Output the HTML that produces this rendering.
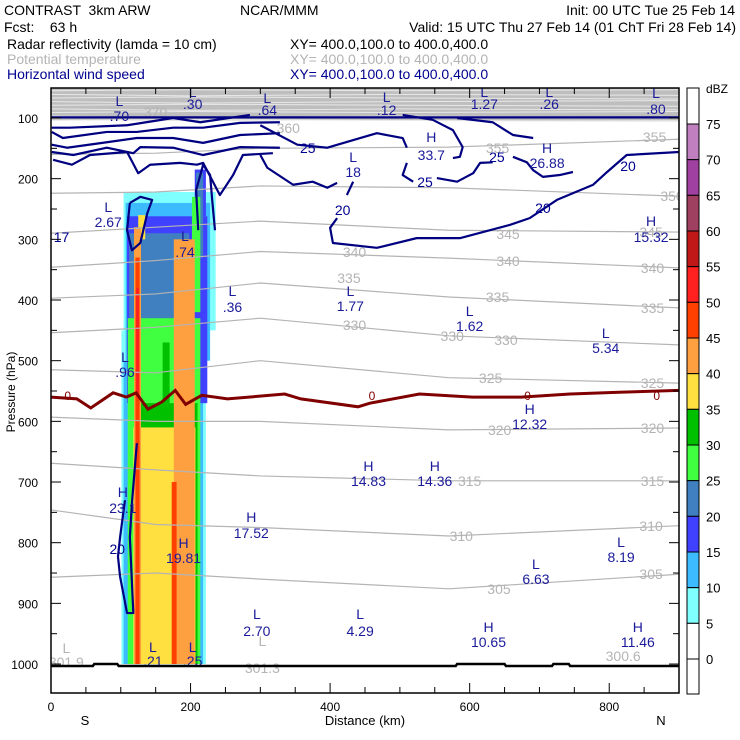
<!DOCTYPE html>
<html><head><meta charset="utf-8">
<style>
html,body{margin:0;padding:0;background:#fff;}
body{width:740px;height:740px;overflow:hidden;font-family:"Liberation Sans",sans-serif;}
.t{position:absolute;font-size:14px;white-space:pre;line-height:14px;}
</style></head>
<body>
<div style="position:absolute;left:0;top:0;width:740px;height:85px;">
<div class="t" style="left:4px;top:3px;">CONTRAST  3km ARW</div>
<div class="t" style="left:240px;top:3px;">NCAR/MMM</div>
<div class="t" style="right:5px;top:3px;">Init: 00 UTC Tue 25 Feb 14</div>
<div class="t" style="left:4px;top:20px;">Fcst:    63 h</div>
<div class="t" style="right:4px;top:20px;">Valid: 15 UTC Thu 27 Feb 14 (01 ChT Fri 28 Feb 14)</div>
<div class="t" style="left:7px;top:37px;">Radar reflectivity (lamda = 10 cm)</div>
<div class="t" style="left:290px;top:37px;">XY= 400.0,100.0 to 400.0,400.0</div>
<div class="t" style="left:7px;top:52px;color:#b4b4b4;">Potential temperature</div>
<div class="t" style="left:290px;top:52px;color:#b4b4b4;">XY= 400.0,100.0 to 400.0,400.0</div>
<div class="t" style="left:7px;top:67px;color:#000090;">Horizontal wind speed</div>
<div class="t" style="left:290px;top:67px;color:#000090;">XY= 400.0,100.0 to 400.0,400.0</div>
</div>
<svg id="chart" width="740" height="740" style="position:absolute;left:0;top:0;" xmlns="http://www.w3.org/2000/svg" font-family="Liberation Sans, sans-serif"></svg>
<script>
// ---- data ----
const xTicks=[0,200,400,600,800];
const pTicks=[100,200,300,400,500,600,700,800,900,1000];
const cbarLevels=[0,5,10,15,20,25,30,35,40,45,50,55,60,65,70,75];
const cbarColors=['#ffffff','#ffffff','#80ffff','#3cbcff','#4040ff','#4080c0','#40ff40','#00c000','#ffe040','#ffa040','#ff4000','#ff2020','#c01818','#a04060','#a040a0','#c080c0','#ffffff'];
// reflectivity cells: [x0 km, x1 km, pTop, pBot, dBZ]
const reflCells=[
[101,222,450,1000,5],[104,236,222,450,5],
[104,218,500,1000,10],[107,228,240,500,10],
[109,224,262,570,15],[206,222,185,262,15],
[112,198,290,590,20],[208,218,190,330,20],
[110,214,430,1000,25],[202,214,230,420,25],
[119,210,570,1000,30],[160,170,470,570,30],
[118,207,610,1000,35],[125,135,260,300,35],
[119,129,280,1000,40],[176,206,300,1000,40],
[121,127,330,1000,45],[173,180,700,1000,45],
[122,126,380,560,50]
];
const thetaLevels=[355,350,345,340,335,330,325,320,315,310,305];
const thetaKm=[0,150,300,570,900];
const thetaP=[
[160,158,150,148,135],
[224,222,212,215,229],
[290,280,270,285,288],
[346,335,320,331,347],
[397,390,372,395,413],
[454,445,430,459,474],
[515,520,500,528,537],
[593,600,600,614,611],
[669,680,690,698,698],
[746,770,775,789,772],
[857,850,860,876,852]];
const topBandP=[55,61,67,73,79,85,91,97,104];
const freezeKm=[0,37,57,89,108,122,139,159,178,193,216,253,335,358,440,457,528,604,674,744,814,900];
const freezeP=[560,563,578,553,560,553,580,568,549,572,557,563,555,563,576,570,555,560,560,555,552,549];
// wind contours: each is km list + hPa list
const windKm=[
[0,900],
[1,27,109,175,214,285],
[1,17,80,123,175,218,271,328],
[1,23,80,123,175,218,271,328],
[1,32,80,118,128,175,218,271,328],
[3,30,56,109,125,142,185,209,218,242,261,275,318],
[300,353,396,443,467,504,510],
[510,504,519],
[553,582,605,615,633],
[662,682,691,705,729,748],
[504,547,576,590,586,576],
[582,633,662,691],
[300,310,347,375,396,410],
[901,825,797,777,725,686,658,586,524,467,404,400,410],
[424,433],
[113,128,145,138,128,116,109,113],
[211,208,218,228,231,235],
[123,116,113,118,109,99,96,99,106]
];
const windP=[
[99,99],
[116,116,112,100,107,95],
[123,133,123,123,116,116,108,107],
[144,149,140,133,133,141,128,125],
[156,161,149,158,148,149,161,148,149],
[169,177,161,156,191,177,174,177,174,227,194,161,158],
[112,144,149,133,125,133,149],
[174,194,205],
[199,205,191,174,173],
[164,173,186,197,194,189],
[95,103,120,148,164,166],
[100,107,128,133],
[161,182,210,205,215,207],
[156,161,189,210,235,265,276,298,298,314,306,281,265],
[227,205],
[240,230,235,257,306,318,285,240],
[285,219,177,194,235,285],
[636,735,791,916,916,856,823,791,730]
];
const hlLabels=[
['L','.70',98,101,116],['L','.30',203,92,104],['L','.64',310,98,110],['L','.12',481,97,110],
['L','1.27',621,92,104],['L','.26',714,92,104],['L','.80',867,93,109],
['H','33.7',545,137,155],['L','18',433,157,172],['H','26.88',711,148,163],
['L','2.67',82,207,222],['L','.74',192,236,252],['H','15.32',860,221,237],
['L','.36',260,291,307],['L','1.77',429,291,306],['L','1.62',600,311,326],['L','5.34',795,333,348],
['L','.96',106,357,372],['H','12.32',686,409,424],['H','14.83',455,466,481],['H','14.36',550,466,481],
['H','23.1',103,492,508],['H','17.52',287,517,533],['H','19.81',190,543,558],
['L','8.19',817,542,557],['L','6.63',695,564,579],['L','2.70',295,614,631],['L','4.29',443,614,631],
['H','10.65',627,627,642],['H','11.46',841,627,642],['L','.21',146,647,661],['L','.25',203,647,661]
];
const windVals=[['25',368,148],['25',536,182],['25',639,157],['20',418,210],['20',705,208],['20',827,166],['20',95,549]];
const grayVals=[['370',150,112],['360',340,128],['355',640,148],['355',865,137],['350',890,196],['345',655,234],['345',860,232],['340',435,252],['340',655,261],['340',862,268],['335',427,278],['335',640,297],['335',862,308],['330',435,325],['330',575,336],['330',652,340],['325',630,378],['325',862,383],['320',643,430],['320',862,428],['315',600,481],['315',862,481],['310',588,536],['310',860,526],['305',642,589],['305',860,574]];
const grayHL=[['L','301.9',22,648,662],['L','301.3',303,641,668],['','300.6',820,0,656]];
const freezeLabels=[24,460,683,868];
// ---- drawing ----
const svg=document.getElementById('chart');
const NS='http://www.w3.org/2000/svg';
const X0=51,X1=679,YT=88,YB=693;
const X=km=>X0+km*(X1-X0)/900;
const Y=p=>118+(p-100)*0.6067;
function el(tag,attrs,parent){const e=document.createElementNS(NS,tag);for(const k in attrs)e.setAttribute(k,attrs[k]);(parent||svg).appendChild(e);return e;}
function txt(s,x,y,color,size,anchor,parent){const t=el('text',{x:x,y:y,fill:color,'font-size':size||14,'text-anchor':anchor||'middle'},parent);t.textContent=s;return t;}
const clip=el('clipPath',{id:'pc'});el('rect',{x:X0,y:YT,width:X1-X0,height:YB-YT},clip);
const g=el('g',{'clip-path':'url(#pc)'});


// top gray band
const band=el('rect',{x:X0,y:YT,width:X1-X0,height:Y(104)-YT,fill:'#bebebe'},g);


topBandP.forEach((p,i)=>{
  const l=el('path',{d:`M${X0} ${Y(p)} L${X(200)} ${Y(p)+(i%2?1.5:-1)} L${X(500)} ${Y(p)} L${X1} ${Y(p)+(i%3?1:-1)}`,stroke:'#e8e8e8',fill:'none','stroke-width':1},g);
  
  
});
// reflectivity
reflCells.forEach(c=>{
  const r=el('rect',{x:X(c[0]),y:Y(c[2]),width:X(c[1])-X(c[0]),height:Y(c[3])-Y(c[2]),fill:cbarColors[cbarLevels.indexOf(c[4])+1]},g);
  
  
});
// theta contours
thetaLevels.forEach((lv,i)=>{
  let d='';thetaKm.forEach((k,j)=>{d+=(j?' L':'M')+X(k)+' '+Y(thetaP[i][j]);});
  const l=el('path',{d:d,stroke:'#b4b4b4',fill:'none','stroke-width':1.2},g);
  
  
});
grayVals.forEach(v=>{const t=txt(v[0],X(v[1]),v[2]+5,'#b4b4b4',14,'middle',g);
  
  });
grayHL.forEach(v=>{if(v[0]){const a=txt(v[0],X(v[2]),v[3]+5,'#b4b4b4',14,'middle',g);
  
  }
  const b=txt(v[1],X(v[2]),v[4]+5,'#b4b4b4',14,'middle',g);
  
  });
// freezing line
{let d='';freezeKm.forEach((k,j)=>{d+=(j?' L':'M')+X(k)+' '+Y(freezeP[j]);});
 const l=el('path',{d:d,stroke:'#800000',fill:'none','stroke-width':3},g);
 
 }
freezeLabels.forEach(k=>{const t=txt('0',X(k),400,'#800000',12,'middle',g);
  
  });
// wind contours
windKm.forEach((ks,i)=>{
  let d='';ks.forEach((k,j)=>{d+=(j?' L':'M')+X(k)+' '+Y(windP[i][j]);});
  const l=el('path',{d:d,stroke:'#000080',fill:'none','stroke-width':2.2,'stroke-linejoin':'round'},g);
  
  
});
windVals.forEach(v=>{const t=txt(v[0],X(v[1]),v[2]+5,'#000090',14,'middle',g);
  
  });
{const t=txt('17',X(1)+2,242,'#000090',14,'start',g);}
hlLabels.forEach(h=>{
  const a=txt(h[0],X(h[2]),h[3]+5,'#1a1a9a',14,'middle',g);
  
  
  const b=txt(h[1],X(h[2]),h[4]+5,'#1a1a9a',14,'middle',g);
  
  
});
// ground line
{const l=el('path',{d:`M${X0} 666 L${X(60)} 666 L${X(62)} 664 L${X(95)} 664 L${X(97)} 666 L${X(580)} 666 L${X(582)} 664 L${X(650)} 664 L${X(652)} 666 L${X(718)} 666 L${X(720)} 664 L${X(742)} 664 L${X(744)} 666 L${X1} 666`,stroke:'#000',fill:'none','stroke-width':2.5},g);
 
 }
// frame
{const f=el('rect',{x:X0,y:YT,width:X1-X0,height:YB-YT,fill:'none',stroke:'#000','stroke-width':1.5});
 
 }
// ticks
for(let k=50;k<900;k+=50){const big=k%200===0;
  el('line',{x1:X(k),x2:X(k),y1:YB,y2:YB-(big?10:6),stroke:'#000'});
  el('line',{x1:X(k),x2:X(k),y1:YT,y2:YT+(big?10:6),stroke:'#000'});}
for(let p=100;p<=1000;p+=50){const big=p%100===0;
  el('line',{x1:X0,x2:X0+(big?10:6),y1:Y(p),y2:Y(p),stroke:'#000'});
  el('line',{x1:X1,x2:X1-(big?10:6),y1:Y(p),y2:Y(p),stroke:'#000'});}
xTicks.forEach(k=>{const t=txt(String(k),X(k),711,'#000',12);
  
  });
pTicks.forEach(p=>{const t=txt(String(p),38,Y(p)+5,'#000',12,'end');
  
  });
{const t=txt('Distance (km)',365,725,'#000',13);
 const s=txt('S',85,725,'#000',13);
 const n=txt('N',661,725,'#000',13);
 const y=txt('Pressure (hPa)',0,0,'#000',12);y.setAttribute('transform','translate(15,392) rotate(-90)');
 }
// colorbar
const CB0=124,CBS=(659-124)/15;
{const cb=el('g',{});
 for(let i=16;i>=0;i--){
   const yTop=i===16?88:CB0+(15-i)*CBS;
   const yBot=i===0?694:CB0+(16-i)*CBS;
   const r=el('rect',{x:687,y:yTop,width:12,height:yBot-yTop,fill:cbarColors[i],stroke:'#000','stroke-width':1},cb);
   
   
 }
 cbarLevels.forEach((lv,i)=>{const t=txt(String(lv),706,CB0+(15-i)*CBS+5,'#000',13,'start',cb);
   });
 const u=txt('dBZ',706,93,'#000',12,'start',cb);}
</script>
</body></html>
